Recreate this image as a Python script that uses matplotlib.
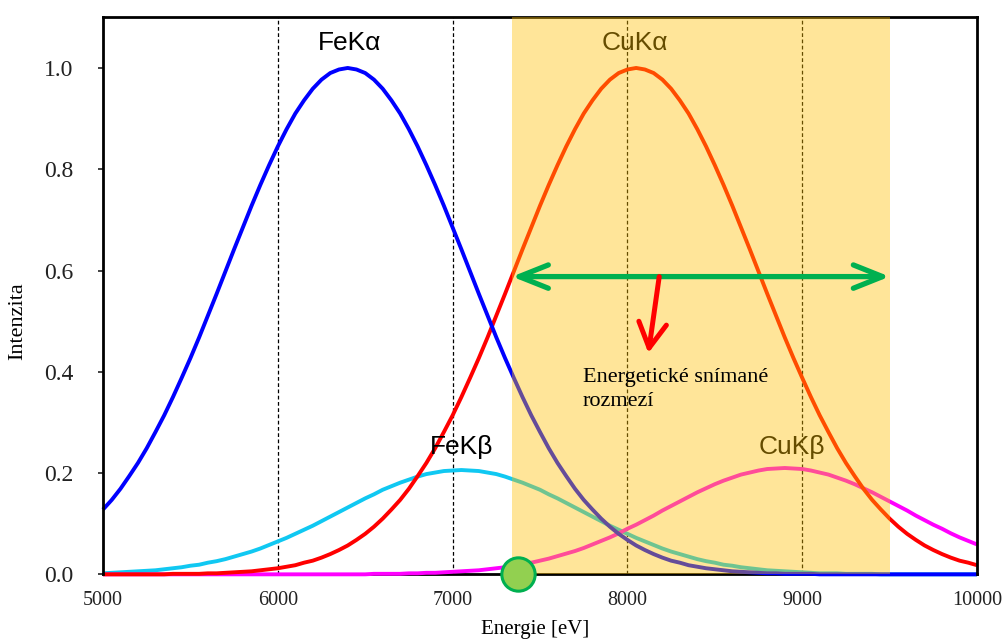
import matplotlib
matplotlib.use('Agg')
import matplotlib.pyplot as plt
from matplotlib.ticker import FormatStrFormatter

# Energy grid [eV] and line intensities (normalised to the K-alpha peaks)
energy = list(range(5000, 10001, 50))

fe_ka = [0.128, 0.147, 0.169, 0.194, 0.220, 0.249, 0.281, 0.314, 0.350, 0.388,
         0.427, 0.468, 0.511, 0.554, 0.598, 0.642, 0.685, 0.728, 0.769, 0.808,
         0.845, 0.879, 0.910, 0.936, 0.959, 0.977, 0.990, 0.997, 1.000, 0.997,
         0.990, 0.977, 0.959, 0.936, 0.910, 0.879, 0.845, 0.808, 0.769, 0.728,
         0.685, 0.642, 0.598, 0.554, 0.511, 0.468, 0.427, 0.388, 0.350, 0.314,
         0.281, 0.249, 0.220, 0.194, 0.169, 0.147, 0.128, 0.110, 0.094, 0.080,
         0.068, 0.057, 0.048, 0.040, 0.033, 0.027, 0.023, 0.018, 0.015, 0.012,
         0.010, 0.008, 0.006, 0.005, 0.004, 0.003, 0.002, 0.002, 0.001, 0.001,
         0.001, 0.001, 0.000, 0.000, 0.000, 0.000, 0.000, 0.000, 0.000, 0.000,
         0.000, 0.000, 0.000, 0.000, 0.000, 0.000, 0.000, 0.000, 0.000, 0.000,
         0.000]

fe_kb = [0.002, 0.003, 0.004, 0.005, 0.006, 0.007, 0.008, 0.010, 0.012, 0.014,
         0.017, 0.019, 0.023, 0.026, 0.030, 0.035, 0.040, 0.045, 0.051, 0.058,
         0.065, 0.072, 0.080, 0.088, 0.096, 0.105, 0.114, 0.123, 0.132, 0.141,
         0.150, 0.158, 0.167, 0.174, 0.181, 0.187, 0.193, 0.198, 0.201, 0.204,
         0.205, 0.206, 0.205, 0.204, 0.201, 0.198, 0.193, 0.187, 0.181, 0.174,
         0.167, 0.158, 0.150, 0.141, 0.132, 0.123, 0.114, 0.105, 0.096, 0.088,
         0.080, 0.072, 0.065, 0.058, 0.051, 0.045, 0.040, 0.035, 0.030, 0.026,
         0.023, 0.019, 0.017, 0.014, 0.012, 0.010, 0.008, 0.007, 0.006, 0.005,
         0.004, 0.003, 0.002, 0.002, 0.002, 0.001, 0.001, 0.001, 0.001, 0.000,
         0.000, 0.000, 0.000, 0.000, 0.000, 0.000, 0.000, 0.000, 0.000, 0.000,
         0.000]

cu_ka = [0.000, 0.000, 0.000, 0.000, 0.000, 0.000, 0.000, 0.000, 0.001, 0.001,
         0.001, 0.001, 0.002, 0.002, 0.003, 0.004, 0.005, 0.006, 0.008, 0.010,
         0.012, 0.015, 0.018, 0.023, 0.027, 0.033, 0.040, 0.048, 0.057, 0.068,
         0.080, 0.094, 0.110, 0.128, 0.147, 0.169, 0.194, 0.220, 0.249, 0.281,
         0.314, 0.350, 0.388, 0.427, 0.468, 0.511, 0.554, 0.598, 0.642, 0.685,
         0.728, 0.769, 0.808, 0.845, 0.879, 0.910, 0.936, 0.959, 0.977, 0.990,
         0.997, 1.000, 0.997, 0.990, 0.977, 0.959, 0.936, 0.910, 0.879, 0.845,
         0.808, 0.769, 0.728, 0.685, 0.642, 0.598, 0.554, 0.511, 0.468, 0.427,
         0.388, 0.350, 0.314, 0.281, 0.249, 0.220, 0.194, 0.169, 0.147, 0.128,
         0.110, 0.094, 0.080, 0.068, 0.057, 0.048, 0.040, 0.033, 0.027, 0.023,
         0.018]

cu_kb = [0.000, 0.000, 0.000, 0.000, 0.000, 0.000, 0.000, 0.000, 0.000, 0.000,
         0.000, 0.000, 0.000, 0.000, 0.000, 0.000, 0.000, 0.000, 0.000, 0.000,
         0.000, 0.000, 0.000, 0.000, 0.000, 0.000, 0.000, 0.000, 0.000, 0.000,
         0.000, 0.001, 0.001, 0.001, 0.001, 0.002, 0.002, 0.003, 0.003, 0.004,
         0.005, 0.006, 0.007, 0.008, 0.010, 0.012, 0.014, 0.017, 0.020, 0.023,
         0.027, 0.031, 0.036, 0.041, 0.046, 0.052, 0.059, 0.066, 0.073, 0.081,
         0.090, 0.098, 0.107, 0.116, 0.126, 0.135, 0.144, 0.153, 0.162, 0.170,
         0.178, 0.185, 0.191, 0.197, 0.201, 0.205, 0.208, 0.209, 0.210, 0.209,
         0.208, 0.205, 0.201, 0.197, 0.191, 0.185, 0.178, 0.170, 0.162, 0.153,
         0.144, 0.135, 0.126, 0.116, 0.107, 0.098, 0.090, 0.081, 0.073, 0.066,
         0.059]

line_names = ['FeKα', 'FeKβ', 'CuKα', 'CuKβ']
label_x = [6410, 7050, 8045, 8940]
label_y = [1.05, 0.252, 1.05, 0.252]

grid_energies = [6000, 7000, 8000, 9000]
window_start, window_end = 7340, 9500
window_level = 0.588
threshold_energy = 7375

plt.rcParams['font.family'] = ['Liberation Serif', 'DejaVu Serif']

fig = plt.figure(figsize=(10.03, 6.42), dpi=100)
ax = fig.add_axes([0.1027, 0.1054, 0.8714, 0.8676])

for e in grid_energies:
    ax.axvline(e, color='black', lw=0.9, ls=(0, (3, 2)), zorder=1.5)

# spectral lines, drawn without clipping so they sit on the energy axis
curve_kw = dict(lw=2.8, clip_on=False, zorder=2, solid_capstyle='butt',
                solid_joinstyle='round')
ax.plot(energy, fe_kb, color='#10C8F2', **curve_kw)
ax.plot(energy, cu_kb, color='#FF00FF', **curve_kw)
ax.plot(energy, cu_ka, color='#FF0000', **curve_kw)
ax.plot(energy, fe_ka, color='#0000FF', **curve_kw)

sans = ['Liberation Sans', 'DejaVu Sans']
for name, x, y in zip(line_names, label_x, label_y):
    ax.text(x, y, name, family=sans, fontsize=19, ha='center', va='center',
            color='black', zorder=2)

# detected energy window
ax.axvspan(window_start, window_end, color='#FFC000', alpha=0.4, lw=0, zorder=3)

ax.annotate('', xy=(window_end, window_level), xytext=(window_start, window_level),
            arrowprops=dict(arrowstyle='<->,head_length=1.05,head_width=0.42',
                            color='#00B050', lw=3.8, shrinkA=0, shrinkB=0,
                            mutation_scale=20, capstyle='round', joinstyle='round'),
            zorder=4)
ax.annotate('', xy=(8120, 0.437), xytext=(8182, window_level),
            arrowprops=dict(arrowstyle='->,head_length=0.9,head_width=0.5',
                            color='#FF0000', lw=3.6, shrinkA=0, shrinkB=0,
                            mutation_scale=20, capstyle='round', joinstyle='round'),
            zorder=4)
ax.text(7746, 0.333, 'Energetické snímané\nrozmezí', fontsize=16, linespacing=1.35,
        ha='left', va='baseline', color='black', zorder=5)

ax.plot([threshold_energy], [0], 'o', ms=24, mfc='#92D050', mec='#00B050',
        mew=2.2, clip_on=False, zorder=6)

ax.set_xlim(5000, 10000)
ax.set_ylim(0, 1.1)
ax.set_xticks([5000, 6000, 7000, 8000, 9000, 10000])
ax.set_yticks([0.0, 0.2, 0.4, 0.6, 0.8, 1.0])
ax.yaxis.set_major_formatter(FormatStrFormatter('%.1f'))
ax.tick_params(axis='x', length=0, pad=12, labelsize=14.5, colors='#222222')
ax.tick_params(axis='y', direction='out', length=3.6, width=1.2, pad=18,
               labelsize=17, colors='#222222')
for side in ['left', 'right', 'top', 'bottom']:
    ax.spines[side].set_linewidth(2)
ax.spines['bottom'].set_zorder(1)

ax.set_xlabel('Energie [eV]', fontsize=15)
ax.xaxis.set_label_coords(0.494, -0.082)
ax.set_ylabel('Intenzita', fontsize=16)
ax.yaxis.set_label_coords(-0.087, 0.455)

fig.savefig('out.png', dpi=100)
